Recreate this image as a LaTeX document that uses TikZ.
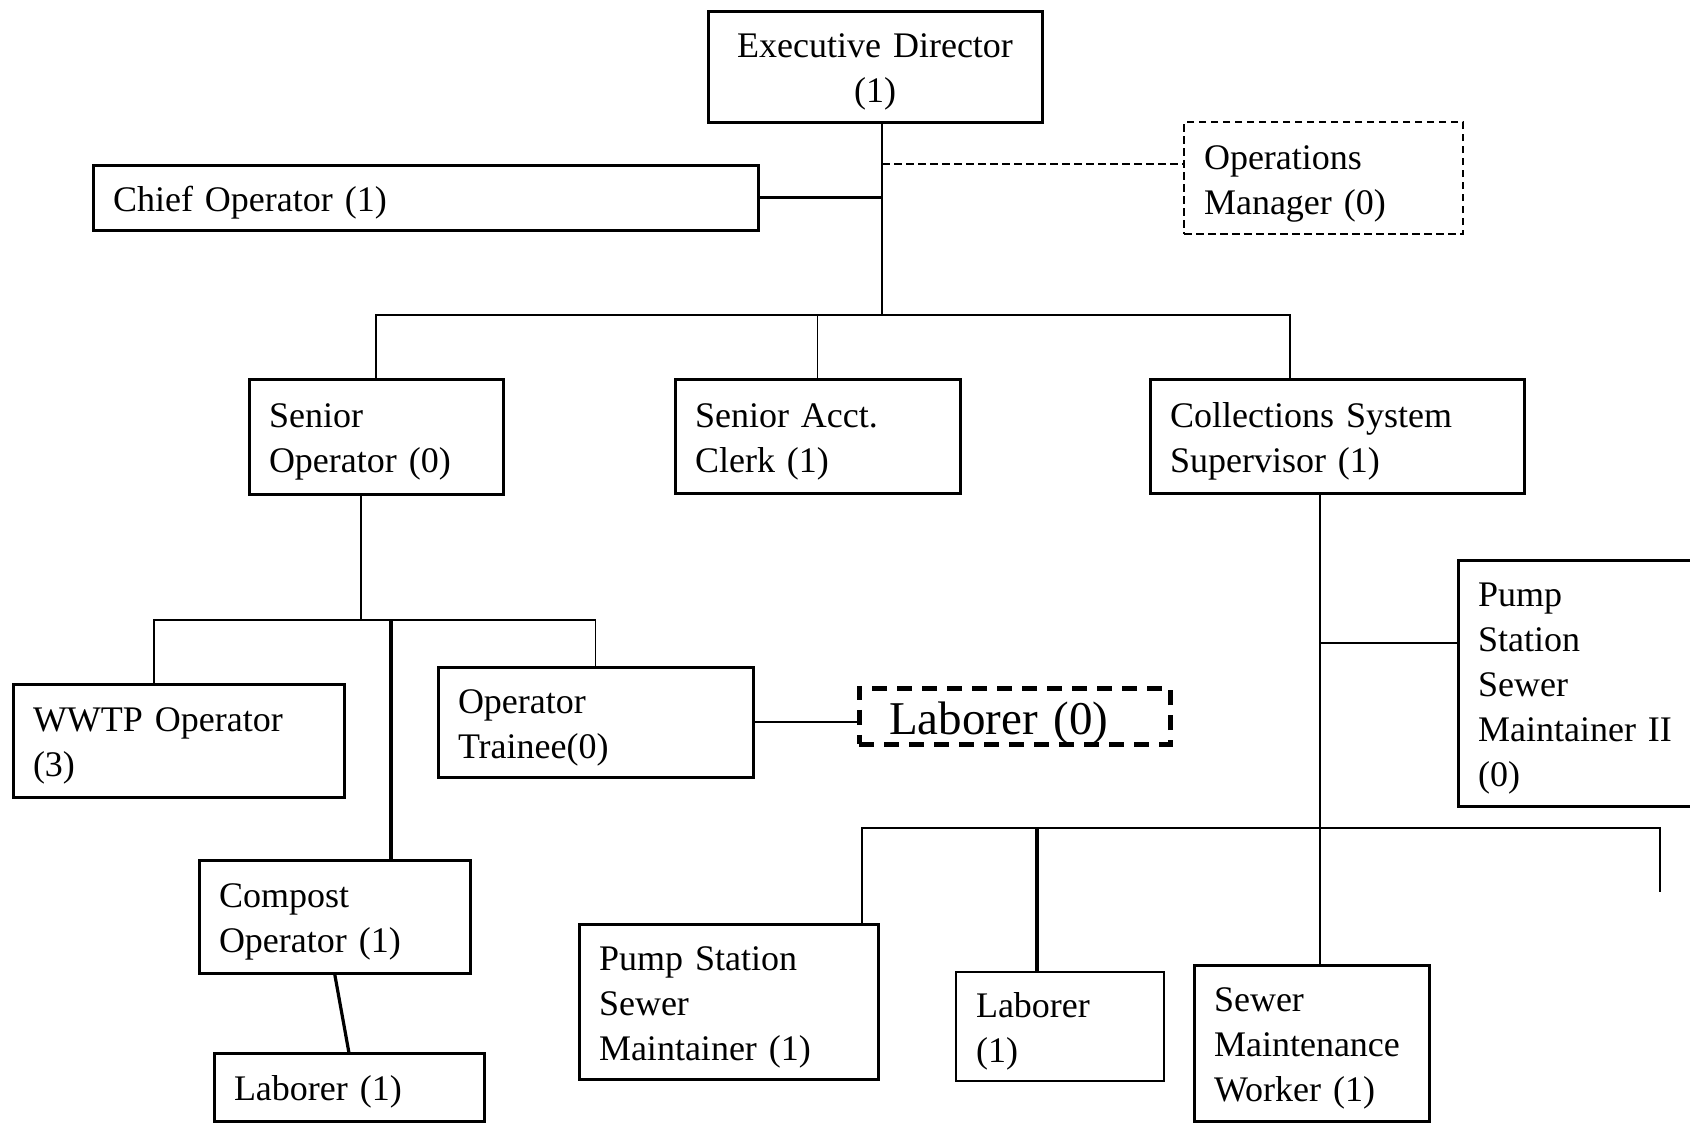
\documentclass[tikz,border=0pt]{standalone}
\usepackage{fontspec}
\setmainfont{Liberation Serif}
\usepackage{tikz}
\tikzstyle{post} = [rectangle, draw=black, line width=1.5pt, anchor=north west, outer sep=0pt, inner xsep=10pt, inner ysep=0pt, align=left, execute at begin node={\rule{0pt}{0.98em}}, font={\fontsize{18}{22.5}\selectfont}]
\tikzstyle{vacant} = [post, line width=1pt, dash pattern=on 3.75pt off 2.25pt]
\tikzstyle{vacantbig} = [post, line width=2.5pt, dash pattern=on 7.5pt off 5pt, inner xsep=15pt, font={\fontsize{23.5}{28}\selectfont}]
\tikzstyle{link} = [line width=0.8pt]
\tikzstyle{buslink} = [line width=1.1pt]
\tikzstyle{thicklink} = [line width=1.6pt]
\tikzstyle{dashlink} = [line width=0.8pt, dash pattern=on 3.75pt off 2.25pt]

\begin{document}
\begin{tikzpicture}[x=0.5pt, y=-0.5pt]
    \useasboundingbox (0,0) rectangle (1690,1125);
    \node (ed) [post, align=center, text width=147pt, minimum height=55.5pt] at (708,11) {Executive Director\\(1)};
    \node (chief) [post, text width=312.5pt, minimum height=32.5pt] at (93,165) {Chief Operator (1)};
    \node (opsmgr) [vacant, text width=119.5pt, minimum height=56pt] at (1184,122) {Operations\\Manager (0)};
    \node (senop) [post, text width=107pt, minimum height=57.5pt] at (249,379) {Senior\\Operator (0)};
    \node (acct) [post, text width=122.5pt, minimum height=57pt] at (675,379) {Senior Acct.\\Clerk (1)};
    \node (css) [post, text width=167pt, minimum height=57pt] at (1150,379) {Collections System\\Supervisor (1)};
    \node (wwtp) [post, text width=145.5pt, minimum height=56.5pt] at (13,684) {WWTP Operator\\(3)};
    \node (trainee) [post, text width=137.5pt, minimum height=55pt] at (438,667) {Operator\\Trainee(0)};
    \node (compost) [post, text width=115.5pt, minimum height=56.5pt] at (199,860) {Compost\\Operator (1)};
    \node (complab) [post, text width=115pt, minimum height=34pt] at (214,1053) {Laborer (1)};
    \node (trainlab) [vacantbig, text width=125.5pt, minimum height=28pt] at (859,688) {Laborer (0)};
    \node (psmtwo) [post, text width=106pt, minimum height=123pt] at (1458,560) {Pump\\Station\\Sewer\\Maintainer II\\(0)};
    \node (psm) [post, text width=129.5pt, minimum height=77.5pt] at (579,924) {Pump Station\\Sewer\\Maintainer (1)};
    \node (colllab) [post, line width=1pt, text width=84pt, minimum height=54.5pt] at (956,972) {Laborer\\(1)};
    \node (smw) [post, text width=97.5pt, minimum height=78pt] at (1194,965) {Sewer\\Maintenance\\Worker (1)};

    \coordinate (topbus) at (882,315);
    \coordinate (cssdrop) at (1290,315);
    \coordinate (opsjoin) at (882,164);
    \coordinate (opbus) at (361,620);
    \coordinate (wwtpdrop) at (154,620);
    \coordinate (compdrop) at (391,620);
    \coordinate (csstrunk) at (1320,828);
    \coordinate (psmtwojoin) at (1320,643);
    \coordinate (lowbusl) at (862,828);
    \coordinate (lowbusr) at (1660,828);
    \coordinate (lowend) at (1660,892);
    \coordinate (labdrop) at (1037,828);

    \draw [link] (topbus |- ed.south) -- (topbus);
    \draw [thicklink] (chief.east) -- (chief.east -| topbus);
    \draw [dashlink] (opsjoin) -- (opsjoin -| opsmgr.west);
    \draw [link] (senop.north) |- (topbus) -- (cssdrop) -- (cssdrop |- css.north);
    \draw [link] (acct.north) -- (acct.north |- topbus);
    \draw [link] (opbus |- senop.south) -- (opbus);
    \draw [link] (wwtpdrop |- wwtp.north) -- (wwtpdrop) -- (wwtpdrop -| trainee.north) -- (trainee.north);
    \draw [thicklink] (compdrop) -- (compdrop |- compost.north);
    \draw [thicklink] (compost.south) -- (complab.north);
    \draw [link] (trainee.east) -- (trainee.east -| trainlab.west);
    \draw [link] (csstrunk |- css.south) -- (csstrunk |- smw.north);
    \draw [link] (psmtwojoin) -- (psmtwojoin -| psmtwo.west);
    \draw [buslink] (lowbusl |- psm.north) -- (lowbusl) -- (lowbusr) -- (lowend);
    \draw [thicklink] (labdrop) -- (labdrop |- colllab.north);
\end{tikzpicture}
\end{document}
